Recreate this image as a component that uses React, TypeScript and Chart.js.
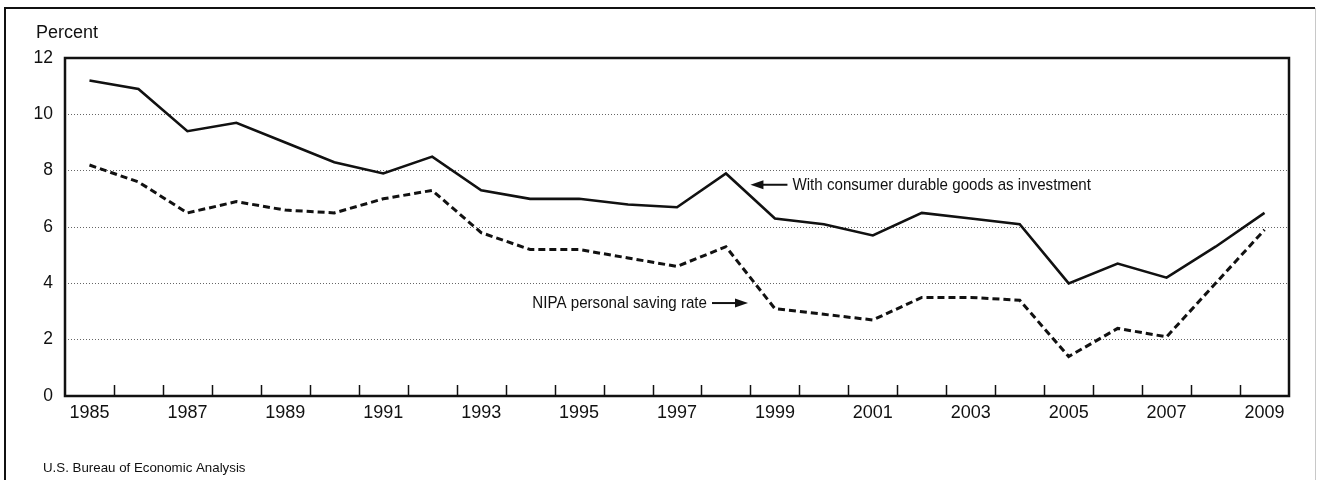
import React, { useEffect, useRef } from "react";
import { Chart, registerables } from "chart.js";

Chart.register(...registerables);

const years = [
  "1985", "1986", "1987", "1988", "1989", "1990", "1991", "1992", "1993",
  "1994", "1995", "1996", "1997", "1998", "1999", "2000", "2001", "2002",
  "2003", "2004", "2005", "2006", "2007", "2008", "2009",
];

const withDurables = [
  11.2, 10.9, 9.4, 9.7, 9.0, 8.3, 7.9, 8.5, 7.3, 7.0, 7.0, 6.8, 6.7, 7.9, 6.3,
  6.1, 5.7, 6.5, 6.3, 6.1, 4.0, 4.7, 4.2, 5.3, 6.5,
];

const nipaRate = [
  8.2, 7.6, 6.5, 6.9, 6.6, 6.5, 7.0, 7.3, 5.8, 5.2, 5.2, 4.9, 4.6, 5.3, 3.1,
  2.9, 2.7, 3.5, 3.5, 3.4, 1.4, 2.4, 2.1, 4.0, 5.9,
];

const seriesNames = ["With consumer durable goods as investment", "NIPA personal saving rate"];
const yTicks = [0, 2, 4, 6, 8, 10, 12];
const unitLabel = "Percent";
const sourceNote = "U.S. Bureau of Economic Analysis";

const FONT = '"Liberation Sans", Arial, Helvetica, sans-serif';

const decorPlugin = {
  id: "decor",
  beforeDraw(chart: any) {
    const ctx = chart.ctx;
    ctx.save();
    ctx.fillStyle = "#ffffff";
    ctx.fillRect(0, 0, chart.width, chart.height);
    // outer frame
    ctx.strokeStyle = "#111";
    ctx.lineWidth = 2;
    ctx.beginPath();
    ctx.moveTo(5, chart.height + 5);
    ctx.lineTo(5, 8);
    ctx.lineTo(1315, 8);
    ctx.stroke();
    ctx.strokeStyle = "#c8c8c8";
    ctx.lineWidth = 1;
    ctx.beginPath();
    ctx.moveTo(1315.5, 8);
    ctx.lineTo(1315.5, chart.height + 5);
    ctx.stroke();
    ctx.restore();
  },
  afterDatasetsDraw(chart: any) {
    const ctx = chart.ctx;
    const a = chart.chartArea;
    const xs = chart.scales.x;
    const ys = chart.scales.y;
    ctx.save();

    // inner tick marks between categories
    ctx.strokeStyle = "#111";
    ctx.lineWidth = 1.5;
    for (let i = 1; i < years.length; i++) {
      const px = (xs.getPixelForValue(i - 1) + xs.getPixelForValue(i)) / 2;
      ctx.beginPath();
      ctx.moveTo(Math.round(px) + 0.5, a.bottom);
      ctx.lineTo(Math.round(px) + 0.5, a.bottom - 11);
      ctx.stroke();
    }

    // plot border
    ctx.lineWidth = 2.5;
    ctx.strokeStyle = "#111";
    ctx.strokeRect(a.left, a.top, a.right - a.left, a.bottom - a.top);

    // annotations
    const drawArrow = (x1: number, y: number, tipX: number) => {
      const dir = tipX > x1 ? 1 : -1;
      ctx.strokeStyle = "#111";
      ctx.fillStyle = "#111";
      ctx.lineWidth = 2;
      ctx.beginPath();
      ctx.moveTo(x1, y);
      ctx.lineTo(tipX - dir * 8, y);
      ctx.stroke();
      ctx.beginPath();
      ctx.moveTo(tipX, y);
      ctx.lineTo(tipX - dir * 13, y - 4.5);
      ctx.lineTo(tipX - dir * 13, y + 4.5);
      ctx.closePath();
      ctx.fill();
    };
    const squeezedText = (t: string, x: number, y: number, align: string) => {
      ctx.save();
      ctx.translate(x, y);
      ctx.scale(0.89, 1);
      ctx.font = `17px ${FONT}`;
      ctx.fillStyle = "#111";
      ctx.textAlign = align;
      ctx.textBaseline = "middle";
      ctx.fillText(t, 0, 0);
      ctx.restore();
    };

    // series 1 label (arrow pointing left)
    const t1x = xs.getPixelForValue(13.5);
    const t1y = ys.getPixelForValue(7.5);
    drawArrow(t1x + 37, t1y, t1x);
    squeezedText(seriesNames[0], t1x + 42, t1y + 0.5, "left");

    // series 2 label (arrow pointing right)
    const t2x = xs.getPixelForValue(13.45);
    const t2y = ys.getPixelForValue(3.3);
    drawArrow(t2x - 36, t2y, t2x);
    squeezedText(seriesNames[1], t2x - 41, t2y + 0.5, "right");

    // unit label and source note
    ctx.fillStyle = "#111";
    ctx.textAlign = "left";
    ctx.textBaseline = "alphabetic";
    ctx.font = `18px ${FONT}`;
    ctx.fillText(unitLabel, 36, 38);
    ctx.font = `13.3px ${FONT}`;
    ctx.fillText(sourceNote, 43, 472);

    ctx.restore();
  },
};

export default function App() {
  const canvasRef = useRef<HTMLCanvasElement | null>(null);

  useEffect(() => {
    if (!canvasRef.current) return;
    const chart = new Chart(canvasRef.current, {
      type: "line",
      data: {
        labels: years,
        datasets: [
          {
            label: seriesNames[0],
            data: withDurables,
            borderColor: "#111",
            borderWidth: 2.6,
            pointRadius: 0,
            tension: 0,
            fill: false,
          },
          {
            label: seriesNames[1],
            data: nipaRate,
            borderColor: "#111",
            borderWidth: 3,
            borderDash: [7, 4],
            pointRadius: 0,
            tension: 0,
            fill: false,
          },
        ],
      },
      options: {
        animation: false,
        responsive: false,
        maintainAspectRatio: false,
        devicePixelRatio: 1,
        layout: { padding: { left: 5, top: 58, right: 29, bottom: 0 } },
        plugins: {
          legend: { display: false },
          title: { display: false },
          tooltip: { enabled: false },
        },
        scales: {
          x: {
            type: "category",
            offset: true,
            grid: { display: false, drawTicks: false },
            border: { display: false },
            ticks: {
              autoSkip: false,
              maxRotation: 0,
              minRotation: 0,
              padding: 6,
              color: "#111",
              font: { family: FONT, size: 18 },
              callback: (_v: any, i: number) => (i % 2 === 0 ? years[i] : ""),
            },
            afterFit: (s: any) => {
              s.height = 84;
            },
          },
          y: {
            min: 0,
            max: 12,
            afterBuildTicks: (s: any) => {
              s.ticks = yTicks.map((v) => ({ value: v }));
            },
            grid: {
              drawTicks: false,
              lineWidth: 1,
              color: (c: any) =>
                c.tick && c.tick.value > 0 && c.tick.value < 12 ? "#666" : "rgba(0,0,0,0)",
            },
            border: { display: false, dash: [1, 2] },
            ticks: {
              padding: 12,
              color: "#111",
              font: { family: FONT, size: 17.5 },
            },
            afterFit: (s: any) => {
              s.width = 60;
            },
          },
        },
      },
      plugins: [decorPlugin],
    });
    return () => chart.destroy();
  }, []);

  return (
    <div style={{ position: "fixed", left: 0, top: 0, width: 1318, height: 480, background: "#fff" }}>
      <canvas ref={canvasRef} width={1318} height={480} style={{ width: 1318, height: 480 }} />
    </div>
  );
}
